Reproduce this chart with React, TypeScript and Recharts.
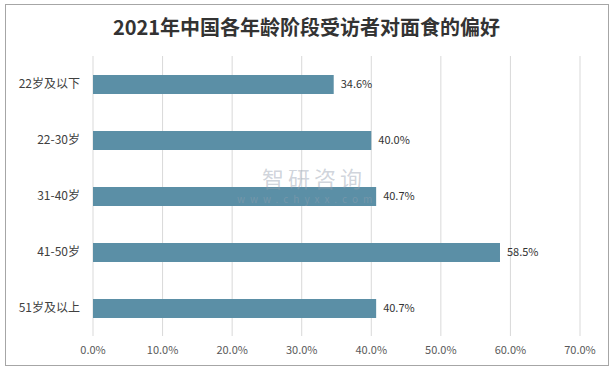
import React from "react";
import { BarChart, Bar, XAxis, YAxis, CartesianGrid, LabelList } from "recharts";

const categories = ["22岁及以下", "22-30岁", "31-40岁", "41-50岁", "51岁及以上"];
const values = [34.6, 40.0, 40.7, 58.5, 40.7];
const xTicks = [0, 10, 20, 30, 40, 50, 60, 70];
const title = "2021年中国各年龄阶段受访者对面食的偏好";

const data = categories.map((c, i) => ({ name: c, value: values[i] }));
const pct = (v: number) => `${Number(v).toFixed(1)}%`;
const font = "'Noto Sans CJK SC', 'Open Sans', sans-serif";

export default function App() {
  return (
    <div style={{ position: "absolute", left: 0, top: 0, width: 613, height: 372, background: "#fff", fontFamily: font }}>
      <div style={{ position: "absolute", left: 5, top: 4, width: 604, height: 362, border: "1px solid #A6A6A6", boxSizing: "border-box" }} />
      <div style={{ position: "absolute", left: 0, top: 12, width: 613, textAlign: "center", fontSize: 20, fontWeight: 700, color: "#333333", lineHeight: "30px" }}>
        {title}
      </div>
      <div style={{ position: "absolute", left: 0, top: 0 }}>
        <BarChart
          width={613}
          height={372}
          data={data}
          layout="vertical"
          margin={{ top: 56, right: 33, bottom: 6, left: 5 }}
          barCategoryGap={18}
        >
          <CartesianGrid horizontal={false} stroke="#D9D9D9" />
          <XAxis
            type="number"
            domain={[0, 70]}
            ticks={xTicks}
            tickFormatter={pct}
            axisLine={false}
            tickLine={false}
            tickSize={0}
            tickMargin={10}
            height={30}
            interval={0}
            tick={{ fill: "#595959", fontSize: 11, fontFamily: font }}
          />
          <YAxis
            type="category"
            dataKey="name"
            width={88}
            axisLine={false}
            tickLine={false}
            tickSize={0}
            tickMargin={13}
            tick={{ fill: "#404040", fontSize: 12, fontFamily: font }}
          />
          <Bar dataKey="value" fill="#5B8FA6" barSize={19} isAnimationActive={false}>
            <LabelList dataKey="value" position="right" offset={7} formatter={pct} fill="#333333" fontSize={11} fontFamily={font} />
          </Bar>
        </BarChart>
      </div>
      <div style={{ position: "absolute", left: 262, top: 164, width: 116, textAlign: "left", color: "rgba(150,160,175,0.45)", pointerEvents: "none", fontSize: 22, lineHeight: "26px", letterSpacing: 4, whiteSpace: "nowrap" }}>
        智研咨询
      </div>
      <div style={{ position: "absolute", left: 237, top: 193, width: 140, textAlign: "left", color: "rgba(150,160,175,0.45)", pointerEvents: "none", fontSize: 10, lineHeight: "12px", letterSpacing: 5, whiteSpace: "nowrap" }}>
        www.chyxx.com
      </div>
    </div>
  );
}
